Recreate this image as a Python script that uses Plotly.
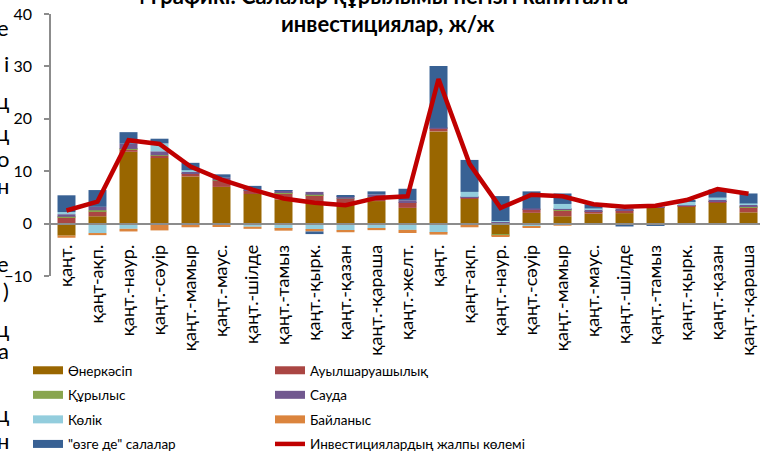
import plotly.graph_objects as go

categories = ["қаңт.", "қаңт-ақп.", "қаңт.-наур.", "қаңт.-сәуір", "қаңт.-мамыр", "қаңт.-маус.",
              "қаңт.-шілде", "қаңт.-тамыз", "қаңт.-қырк.", "қаңт.-қазан", "қаңт.-қараша", "қаңт.-желт.",
              "қаңт.", "қаңт-ақп.", "қаңт.-наур.", "қаңт.-сәуір", "қаңт.-мамыр", "қаңт.-маус.",
              "қаңт.-шілде", "қаңт.-тамыз", "қаңт.-қырк.", "қаңт.-қазан", "қаңт.-қараша"]

industry = [-2.3, 1.4, 13.7, 12.5, 9.0, 7.0, 5.65, 4.6, 3.95, 3.6, 4.3, 3.0,
            17.6, 4.75, -2.1, 2.05, 1.4, 1.9, 2.0, 3.0, 3.3, 3.95, 2.15]
agriculture = [1.2, 0.9, 0.45, 0.45, 0.5, 1.15, 0.6, 1.2, 1.5, 1.1, 0.7, 1.1,
               0.5, 0.25, 0.2, 0.6, 1.1, 0.4, 0.5, 0.1, 0.1, 0.2, 1.0]
construction = [0.1, 0.25, 0.1, 0.1, 0.1, 0.1, 0.05, 0.05, 0.05, 0.05, 0.05, -0.2,
                0.1, -0.2, -0.25, 0.05, 0.1, 0.1, 0.05, 0.05, 0.05, 0.1, 0.1]
trade = [0.5, 0.65, 1.0, 0.75, 0.3, 0.5, 0.3, 0.5, 0.55, 0.5, 0.5, 0.35,
         0.1, 0.1, 0.15, 0.2, 0.2, 0.3, 0.3, 0.05, 0.05, 0.35, 0.3]
transport = [0.4, -1.8, -1.0, 1.5, 0.3, -0.3, -0.6, -1.0, -1.15, -1.3, -0.9, -1.0,
             -1.75, 0.95, 0.15, -0.6, 0.95, 0.2, 0.1, 0.2, 0.8, 0.35, 0.3]
communication = [-0.4, -0.4, -0.5, -1.3, -0.7, -0.3, -0.4, -0.35, -0.35, -0.35, -0.35, -0.6,
                 -0.35, -0.5, -0.2, -0.1, -0.4, -0.2, -0.05, -0.05, -0.1, -0.05, -0.1]
other = [3.2, 3.2, 2.2, 0.9, 1.4, 0.65, 0.6, 0.05, -0.5, 0.1, 0.6, 2.2,
         11.8, 6.1, 4.75, 3.25, 2.0, 0.8, -0.5, -0.4, 0.05, 1.55, 1.9]
total = [2.5, 4.2, 15.9, 15.2, 10.9, 8.4, 6.5, 4.8, 4.0, 3.5, 4.9, 5.2,
         27.6, 11.4, 3.0, 5.5, 5.2, 3.7, 3.2, 3.4, 4.5, 6.6, 5.7]

series_names = ["Өнеркәсіп", "Ауылшаруашылық", "Құрылыс", "Сауда", "Көлік", "Байланыс", "\"өзге де\" салалар"]
series_values = [industry, agriculture, construction, trade, transport, communication, other]
series_colors = ["#996600", "#AA4643", "#89A54E", "#71588F", "#93CDDD", "#DB843D", "#386194"]
line_name = "Инвестициялардың жалпы көлемі"
line_color = "#C00000"

title_line1 = "4 графикі. Салалар құрылымы негізгі капиталға"
title_line2 = "инвестициялар, ж/ж"

x = list(range(len(categories)))
FONT = "Lato, 'Open Sans', Arial, sans-serif"

fig = go.Figure()
for name, vals, col in zip(series_names, series_values, series_colors):
    fig.add_trace(go.Bar(x=x, y=vals, name=name, marker=dict(color=col, line=dict(width=0)),
                         showlegend=False))

fig.add_trace(go.Scatter(x=x, y=total, name=line_name, mode="lines",
                         line=dict(color=line_color, width=4.5), showlegend=False))

# legend entries (two columns)
col1 = [0, 2, 4, 6]
col2 = [1, 3, 5]
for i in col1:
    fig.add_trace(go.Scatter(x=[None], y=[None], mode="lines", name=series_names[i],
                             line=dict(color=series_colors[i], width=8),
                             legend="legend", legendgroup=f"g{i}"))
for i in col2:
    fig.add_trace(go.Scatter(x=[None], y=[None], mode="lines", name=series_names[i],
                             line=dict(color=series_colors[i], width=8),
                             legend="legend2", legendgroup=f"g{i}"))
fig.add_trace(go.Scatter(x=[None], y=[None], mode="lines", name=line_name,
                         line=dict(color=line_color, width=4.5),
                         legend="legend2", legendgroup="gline"))

W, H = 760, 454
ml, mt, mb = 51, 14, 178
pw = W - ml
ph = H - mt - mb

def px2x(px):
    return (px - ml) / pw

def py2y(py):
    return (H - mb - py) / ph

legend_common = dict(orientation="v", xanchor="left", yanchor="top", tracegroupgap=4,
                     font=dict(family=FONT, size=13.5, color="#000000"),
                     bgcolor="rgba(0,0,0,0)", borderwidth=0, itemclick=False)

annotations = [
    dict(text=f"<b>{title_line1}</b>", xref="paper", yref="paper", x=px2x(380), y=py2y(-5),
         xanchor="center", yanchor="middle", showarrow=False,
         font=dict(family=FONT, size=22, color="#000000")),
    dict(text=f"<b>{title_line2}</b>", xref="paper", yref="paper", x=px2x(388), y=py2y(23),
         xanchor="center", yanchor="middle", showarrow=False,
         font=dict(family=FONT, size=22, color="#000000")),
]
# fragments of neighbouring text at the left edge of the crop
frags = [("е", 28), ("і", 63), ("ц", 100), ("ц", 132), ("о", 158), ("н", 185),
         ("е", 263), (")", 290), ("ц", 328), ("а", 350), ("ц", 413), ("н", 440)]
for t, py in frags:
    annotations.append(dict(text=t, xref="paper", yref="paper", x=px2x(11), y=py2y(py),
                            xanchor="right", yanchor="middle", showarrow=False,
                            font=dict(family=FONT, size=22, color="#000000")))

fig.update_layout(
    width=W, height=H,
    margin=dict(l=ml, r=0, t=mt, b=mb, pad=0, autoexpand=False),
    paper_bgcolor="white", plot_bgcolor="white",
    barmode="relative", bargap=0.42,
    font=dict(family=FONT, size=15, color="#000000"),
    xaxis=dict(range=[-0.5, 22.37], tickmode="array", tickvals=x, ticktext=categories,
               tickangle=-90, anchor="free", position=0.2, showline=True,
               linecolor="#8C8C8C", linewidth=2, ticks="", showgrid=False, zeroline=False,
               automargin=False,
               tickfont=dict(family=FONT, size=18, color="#000000"), ticklabelstandoff=13),
    yaxis=dict(range=[-10, 40], dtick=10, tick0=0, ticks="outside", ticklen=5,
               tickcolor="#8C8C8C", tickwidth=1.5, showline=True, linecolor="#8C8C8C",
               linewidth=1.5, showgrid=False, zeroline=False, automargin=False,
               tickfont=dict(family=FONT, size=16, color="#000000"), ticklabelstandoff=9),
    legend=dict(x=px2x(28), y=py2y(355), **legend_common),
    legend2=dict(x=px2x(270), y=py2y(355), **legend_common),
    annotations=annotations,
)

fig.write_html("out.html", config={"displayModeBar": False},
               post_script="document.body.style.margin='0';document.body.style.padding='0';")
